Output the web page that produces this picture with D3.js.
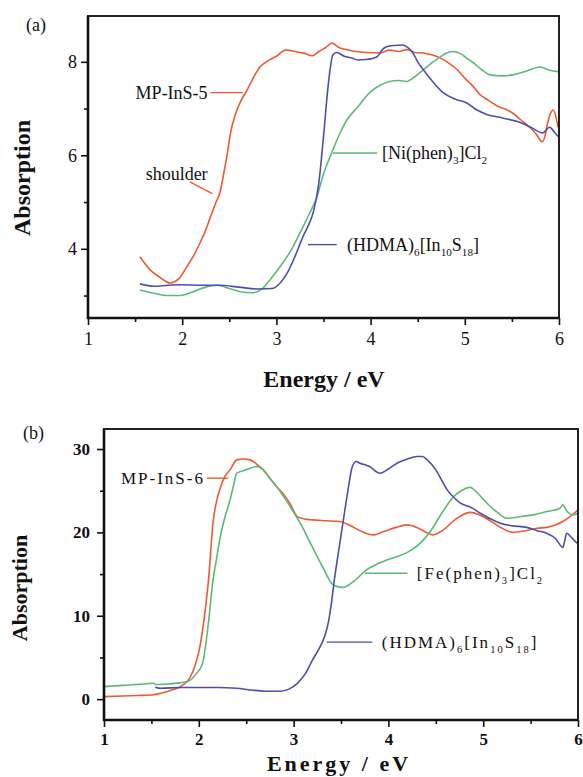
<!DOCTYPE html>
<html>
<head>
<meta charset="utf-8">
<script src="https://cdn.jsdelivr.net/npm/d3@7"></script>
<style>
  body { margin: 0; background: #fff; }
  text { font-family: "Liberation Serif", "Times New Roman", serif; fill: #111; }
</style>
</head>
<body>
<div id="chart"></div>
<script>
// ---- data ----
// panel (a)
var aRed = [[1.55,3.83],[1.66,3.55],[1.77,3.38],[1.87,3.27],[1.96,3.35],[2.05,3.62],[2.12,3.85],[2.19,4.13],[2.25,4.4],[2.3,4.68],[2.36,5.0],[2.4,5.2],[2.44,5.6],[2.48,6.05],[2.51,6.45],[2.56,6.85],[2.62,7.15],[2.69,7.4],[2.76,7.68],[2.83,7.9],[2.92,8.03],[3.0,8.12],[3.1,8.25],[3.2,8.22],[3.3,8.18],[3.38,8.13],[3.45,8.22],[3.52,8.3],[3.59,8.4],[3.67,8.3],[3.75,8.26],[3.85,8.22],[3.95,8.2],[4.1,8.19],[4.2,8.25],[4.3,8.22],[4.39,8.26],[4.47,8.2],[4.56,8.19],[4.65,8.15],[4.72,8.1],[4.81,8.0],[4.92,7.83],[5.0,7.65],[5.09,7.47],[5.16,7.3],[5.24,7.19],[5.35,7.05],[5.44,6.98],[5.51,6.9],[5.6,6.75],[5.69,6.6],[5.76,6.45],[5.82,6.29],[5.85,6.4],[5.87,6.6],[5.91,6.9],[5.94,6.97],[5.97,6.8],[5.99,6.6]];
var aBlue = [[1.55,3.25],[1.7,3.2],[1.85,3.22],[2.0,3.23],[2.2,3.22],[2.4,3.22],[2.6,3.18],[2.8,3.14],[2.95,3.15],[3.04,3.27],[3.12,3.5],[3.2,3.85],[3.28,4.25],[3.35,4.55],[3.39,4.77],[3.45,5.4],[3.5,6.4],[3.55,7.5],[3.6,8.15],[3.64,8.2],[3.72,8.12],[3.8,8.08],[3.86,8.04],[3.95,8.05],[4.07,8.11],[4.12,8.25],[4.17,8.32],[4.25,8.35],[4.34,8.36],[4.4,8.3],[4.45,8.19],[4.5,8.0],[4.56,7.83],[4.65,7.6],[4.77,7.34],[4.9,7.2],[5.02,7.12],[5.12,6.98],[5.24,6.87],[5.4,6.8],[5.59,6.7],[5.7,6.6],[5.83,6.48],[5.9,6.6],[5.95,6.5],[5.99,6.4]];
var aGreen = [[1.55,3.12],[1.7,3.05],[1.85,3.0],[1.98,3.0],[2.1,3.07],[2.25,3.18],[2.37,3.22],[2.5,3.15],[2.62,3.08],[2.75,3.06],[2.85,3.15],[2.95,3.38],[3.04,3.62],[3.15,3.95],[3.25,4.34],[3.35,4.75],[3.43,5.11],[3.5,5.6],[3.6,6.12],[3.67,6.45],[3.75,6.76],[3.87,7.05],[3.99,7.34],[4.1,7.5],[4.2,7.58],[4.3,7.6],[4.38,7.58],[4.47,7.68],[4.56,7.83],[4.68,8.02],[4.81,8.19],[4.87,8.22],[4.95,8.18],[5.02,8.08],[5.09,7.98],[5.18,7.83],[5.27,7.72],[5.4,7.7],[5.51,7.72],[5.65,7.8],[5.8,7.89],[5.9,7.82],[5.99,7.79]];

// panel (b)
var bRed = [[1.0,0.3],[1.2,0.38],[1.35,0.44],[1.5,0.5],[1.6,0.7],[1.7,1.05],[1.82,1.6],[1.91,2.64],[1.96,4.0],[2.01,6.2],[2.06,10.0],[2.1,14.0],[2.15,21.1],[2.22,25.1],[2.28,26.8],[2.33,27.5],[2.4,28.7],[2.47,28.8],[2.54,28.7],[2.61,28.2],[2.68,27.5],[2.75,26.5],[2.82,25.5],[2.9,24.5],[2.96,23.5],[3.04,21.9],[3.12,21.6],[3.2,21.5],[3.35,21.4],[3.49,21.3],[3.6,20.8],[3.72,20.1],[3.84,19.7],[3.95,20.1],[4.08,20.6],[4.2,20.9],[4.3,20.6],[4.4,20.0],[4.47,19.7],[4.58,20.3],[4.7,21.5],[4.86,22.4],[4.98,22.0],[5.1,21.2],[5.2,20.5],[5.31,20.0],[5.45,20.2],[5.57,20.5],[5.67,20.6],[5.76,20.9],[5.84,21.3],[5.93,22.0],[6.0,22.7]];
var bGreen = [[1.0,1.5],[1.2,1.65],[1.4,1.8],[1.52,1.9],[1.55,1.75],[1.65,1.8],[1.8,1.95],[1.9,2.2],[1.97,3.0],[2.04,4.3],[2.1,9.0],[2.15,14.3],[2.19,17.0],[2.22,19.1],[2.28,22.0],[2.33,23.9],[2.37,25.8],[2.4,27.1],[2.5,27.5],[2.61,27.9],[2.68,27.5],[2.75,26.5],[2.82,25.5],[2.9,24.2],[2.98,22.8],[3.07,21.1],[3.13,19.8],[3.2,18.2],[3.3,16.0],[3.42,13.7],[3.52,13.4],[3.62,14.0],[3.77,15.5],[3.92,16.4],[4.09,17.1],[4.2,17.6],[4.37,19.1],[4.46,20.4],[4.54,21.9],[4.61,23.1],[4.68,24.2],[4.77,25.0],[4.86,25.4],[4.95,24.6],[5.04,23.5],[5.15,22.4],[5.25,21.7],[5.4,21.9],[5.53,22.1],[5.67,22.5],[5.81,22.9],[5.84,23.3],[5.88,22.6],[5.95,22.1],[6.0,22.3]];
var bBlue = [[1.54,1.44],[1.6,1.3],[1.8,1.4],[2.0,1.4],[2.2,1.4],[2.4,1.3],[2.55,1.1],[2.7,0.95],[2.86,0.95],[2.95,1.2],[3.04,1.9],[3.12,3.0],[3.2,4.7],[3.28,6.3],[3.33,7.6],[3.37,9.4],[3.4,11.6],[3.43,14.3],[3.47,17.4],[3.52,21.1],[3.57,24.8],[3.62,27.9],[3.66,28.5],[3.7,28.3],[3.8,27.9],[3.91,27.1],[4.0,27.6],[4.09,28.3],[4.2,28.8],[4.3,29.1],[4.36,29.1],[4.41,28.7],[4.5,27.5],[4.56,26.3],[4.62,25.1],[4.7,24.1],[4.76,23.5],[4.87,23.0],[4.97,22.3],[5.08,21.6],[5.18,21.1],[5.3,20.8],[5.46,20.6],[5.57,20.2],[5.67,19.9],[5.76,19.3],[5.84,18.2],[5.86,19.0],[5.88,19.9],[5.93,19.4],[5.99,18.7]];

var xMajor = [1,2,3,4,5,6];
var xMinor = [1.5,2.5,3.5,4.5,5.5];
var aYMajor = [4,6,8];
var aYMinor = [3,5,7];
var bYMajor = [0,10,20,30];
var bYMinor = [5,15,25];

// callouts: text pieces ("sub" = subscript), leader start/end x and y in data units, text x
var aLabels = [
  {parts:[["MP-InS-5"]], x0:2.30, x1:2.645, y:7.34, tx:2.27, anchor:"end", color:"red"},
  {parts:[["[Ni(phen)"],["3","sub"],["]Cl"],["2","sub"]], x0:3.6, x1:4.07, y:6.05, tx:4.12, anchor:"start", color:"green"},
  {parts:[["(HDMA)"],["6","sub"],["[In"],["10","sub"],["S"],["18","sub"],["]"]], x0:3.335, x1:3.64, y:4.09, tx:3.75, anchor:"start", color:"blue"}
];
var bLabels = [
  {parts:[["MP-InS-6"]], x0:2.087, x1:2.31, y:26.5, tx:2.065, anchor:"end", color:"red"},
  {parts:[["[Fe(phen)"],["3","sub"],["]Cl"],["2","sub"]], x0:3.75, x1:4.2, y:15.1, tx:4.3, anchor:"start", color:"green"},
  {parts:[["(HDMA)"],["6","sub"],["[In"],["10","sub"],["S"],["18","sub"],["]"]], x0:3.35, x1:3.83, y:6.84, tx:3.93, anchor:"start", color:"blue"}
];

var colors = {red:"#ec5a34", green:"#5cba78", blue:"#4c4fae"};

var svg = d3.select("#chart").append("svg")
    .attr("width", 583)
    .attr("height", 777);

function drawPanel(cfg){
    var x = d3.scaleLinear().domain([1,6]).range([cfg.left, cfg.right]);
    var y = d3.scaleLinear().domain(cfg.yDomain).range([cfg.bottom, cfg.top]);
    var g = svg.append("g");

    var line = d3.line()
        .x(function(d){ return x(d[0]); })
        .y(function(d){ return y(d[1]); })
        .curve(d3.curveMonotoneX);

    cfg.series.forEach(function(s){
        g.append("path")
            .datum(s.data)
            .attr("d", line)
            .attr("fill", "none")
            .attr("stroke", colors[s.color])
            .attr("stroke-width", 1.6)
            .attr("stroke-linejoin", "round");
    });

    // axes
    var xAx = g.append("g").attr("transform", "translate(0," + cfg.bottom + ")")
        .call(d3.axisBottom(x).tickValues(xMajor).tickFormat(d3.format("d")).tickSizeInner(7).tickSizeOuter(0).tickPadding(cfg.xPad));
    var xAxMin = g.append("g").attr("transform", "translate(0," + cfg.bottom + ")")
        .call(d3.axisBottom(x).tickValues(xMinor).tickFormat("").tickSizeInner(4).tickSizeOuter(0));
    var yAx = g.append("g").attr("transform", "translate(" + cfg.left + ",0)")
        .call(d3.axisLeft(y).tickValues(cfg.yMajor).tickFormat(d3.format("d")).tickSizeInner(7).tickSizeOuter(0).tickPadding(cfg.yPad));
    var yAxMin = g.append("g").attr("transform", "translate(" + cfg.left + ",0)")
        .call(d3.axisLeft(y).tickValues(cfg.yMinor).tickFormat("").tickSizeInner(4).tickSizeOuter(0));

    [xAx, xAxMin, yAx, yAxMin].forEach(function(a){
        a.select(".domain").remove();
        a.selectAll("line").attr("stroke", "#111").attr("stroke-width", 1.6);
        a.selectAll("text")
            .attr("font-family", "Liberation Serif, serif")
            .attr("font-size", cfg.tickSize)
            .attr("font-weight", cfg.tickWeight)
            .attr("fill", "#111");
    });

    // frame
    g.append("rect")
        .attr("x", cfg.left).attr("y", cfg.top)
        .attr("width", cfg.right - cfg.left)
        .attr("height", cfg.bottom - cfg.top)
        .attr("fill", "none")
        .attr("stroke", "#222")
        .attr("stroke-width", 2);
    g.append("path")
        .attr("d", "M" + cfg.left + "," + cfg.top + "V" + cfg.bottom + "H" + cfg.right)
        .attr("fill", "none").attr("stroke", "#111").attr("stroke-width", 2.6);

    // callouts
    cfg.labels.forEach(function(l){
        g.append("line")
            .attr("x1", x(l.x0)).attr("x2", x(l.x1))
            .attr("y1", y(l.y)).attr("y2", y(l.y))
            .attr("stroke", colors[l.color]).attr("stroke-width", 1.4);
        var t = g.append("text")
            .attr("x", x(l.tx)).attr("y", y(l.y) + cfg.annSize * 0.33)
            .attr("text-anchor", l.anchor)
            .attr("font-size", cfg.annSize)
            .attr("letter-spacing", cfg.annSpacing);
        var down = false;
        l.parts.forEach(function(p){
            var isSub = p[1] === "sub";
            var dy = isSub ? (down ? 0 : 5) : (down ? -5 : 0);
            var ts = t.append("tspan").attr("dy", dy).text(p[0]);
            if (isSub) ts.attr("font-size", cfg.annSize * 0.62);
            down = isSub;
        });
    });

    // panel letter
    g.append("text").attr("x", cfg.letterX).attr("y", cfg.letterY)
        .attr("font-size", 18).text(cfg.letter);

    // axis titles
    g.append("text")
        .attr("transform", "translate(" + cfg.yTitleX + "," + cfg.yTitleY + ") rotate(-90)")
        .attr("text-anchor", "middle")
        .attr("font-size", cfg.titleSize).attr("font-weight", "bold")
        .text("Absorption");
    g.append("text")
        .attr("x", cfg.xTitleX).attr("y", cfg.xTitleY)
        .attr("text-anchor", "middle")
        .attr("font-size", cfg.titleSize).attr("font-weight", "bold")
        .attr("letter-spacing", cfg.xTitleSpacing)
        .text("Energy / eV");

    return {x:x, y:y, g:g};
}

var pa = drawPanel({
    left:88, right:559, top:16, bottom:318,
    yDomain:[2.52, 8.98], yMajor:aYMajor, yMinor:aYMinor,
    xPad:7, yPad:4, tickSize:18, tickWeight:"normal",
    series:[{data:aRed, color:"red"}, {data:aGreen, color:"green"}, {data:aBlue, color:"blue"}],
    labels:aLabels, annSize:18, annSpacing:0,
    letter:"(a)", letterX:26, letterY:31,
    yTitleX:30, yTitleY:178, xTitleX:324, xTitleY:387, titleSize:24, xTitleSpacing:0
});

// "shoulder" callout on the red curve of panel (a)
pa.g.append("line")
    .attr("x1", pa.x(2.08)).attr("y1", pa.y(5.43))
    .attr("x2", pa.x(2.32)).attr("y2", pa.y(5.18))
    .attr("stroke", colors.red).attr("stroke-width", 1.4);
pa.g.append("text")
    .attr("x", pa.x(2.27)).attr("y", pa.y(5.6) + 6)
    .attr("text-anchor", "end").attr("font-size", 18)
    .text("shoulder");

drawPanel({
    left:104, right:578, top:429, bottom:720,
    yDomain:[-2.5, 32.4], yMajor:bYMajor, yMinor:bYMinor,
    xPad:6, yPad:7, tickSize:17, tickWeight:"bold",
    series:[{data:bRed, color:"red"}, {data:bGreen, color:"green"}, {data:bBlue, color:"blue"}],
    labels:bLabels, annSize:17, annSpacing:2,
    letter:"(b)", letterX:23, letterY:439,
    yTitleX:27, yTitleY:588, xTitleX:339, xTitleY:771, titleSize:22, xTitleSpacing:3
});
</script>
</body>
</html>
